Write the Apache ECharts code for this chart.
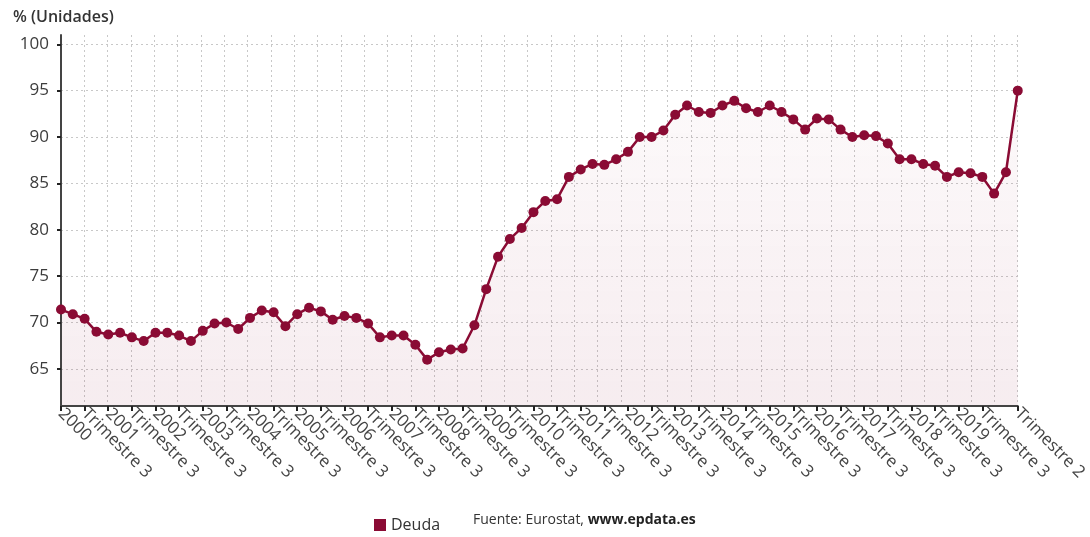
<!DOCTYPE html>
<html>
<head>
<meta charset="utf-8">
<script src="https://cdn.jsdelivr.net/npm/echarts@6/dist/echarts.min.js"></script>
<style>
  html, body { margin: 0; padding: 0; background: #fff; }
  #chart { width: 1090px; height: 537px; }
</style>
</head>
<body>
<div id="chart"></div>
<script>
// Deuda pública (% del PIB), trimestral, 2000 T1 – 2020 T2
const years = ['2000','2001','2002','2003','2004','2005','2006','2007','2008','2009',
               '2010','2011','2012','2013','2014','2015','2016','2017','2018','2019','2020'];
const quarterNames = ['Trimestre 1', 'Trimestre 2', 'Trimestre 3', 'Trimestre 4'];
const deuda = [
  71.4, 70.9, 70.4, 69.0,
  68.7, 68.9, 68.4, 68.0,
  68.9, 68.9, 68.6, 68.0,
  69.1, 69.9, 70.0, 69.3,
  70.5, 71.3, 71.1, 69.6,
  70.9, 71.6, 71.2, 70.3,
  70.7, 70.5, 69.9, 68.4,
  68.6, 68.6, 67.6, 66.0,
  66.8, 67.1, 67.2, 69.7,
  73.6, 77.1, 79.0, 80.2,
  81.9, 83.1, 83.3, 85.7,
  86.5, 87.1, 87.0, 87.6,
  88.4, 90.0, 90.0, 90.7,
  92.4, 93.4, 92.7, 92.6,
  93.4, 93.9, 93.1, 92.7,
  93.4, 92.7, 91.9, 90.8,
  92.0, 91.9, 90.8, 90.0,
  90.2, 90.1, 89.3, 87.6,
  87.6, 87.1, 86.9, 85.7,
  86.2, 86.1, 85.7, 83.9,
  86.2, 95.0
];
const yTicks = [65, 70, 75, 80, 85, 90, 95, 100];

// One category per quarter; the first quarter of each year is labelled with the year
const categories = [];
for (const y of years) {
  for (let q = 0; q < 4 && categories.length < deuda.length; q++) {
    categories.push(q === 0 ? y : quarterNames[q]);
  }
}
const lastIdx = categories.length - 1;
// label every second quarter, and always the latest one
const shownTick = (i) => (i % 2 === 0 && i < lastIdx - 1) || i === lastIdx;
// vertical grid: evenly spaced lines, one per labelled slot
const gridSlots = Math.ceil(lastIdx / 2);

const COLOR = '#8a0b34';
const FONT = '"Open Sans", "Noto Sans", sans-serif';
const GRID_LINE = { color: '#c8c8c8', type: [2, 3], width: 1 };

const chart = echarts.init(document.getElementById('chart'), null, { renderer: 'canvas' });
chart.setOption({
  animation: false,
  textStyle: { fontFamily: FONT },
  title: {
    text: '% (Unidades)',
    left: 8, top: 4,
    textStyle: { fontFamily: FONT, fontSize: 16, fontWeight: 600, color: '#333' }
  },
  legend: {
    data: ['Deuda'],
    left: 369, top: 512,
    icon: 'rect', itemWidth: 12, itemHeight: 12, itemGap: 6,
    textStyle: { fontFamily: FONT, fontSize: 16, color: '#333' }
  },
  graphic: [{
    type: 'text',
    left: 473, top: 513,
    style: {
      text: '{a|Fuente: Eurostat, }{b|www.epdata.es}',
      rich: {
        a: { fontFamily: FONT, fontSize: 14, fill: '#333' },
        b: { fontFamily: FONT, fontSize: 14, fontWeight: 'bold', fill: '#222' }
      }
    }
  }],
  grid: { left: 61, right: 69, top: 35, bottom: 131, containLabel: false },
  xAxis: [{
    type: 'category',
    data: categories,
    boundaryGap: false,
    z: 3,
    axisLine: { lineStyle: { color: '#444', width: 2 } },
    axisTick: { show: true, interval: shownTick, length: 5, lineStyle: { color: '#222', width: 2 } },
    axisLabel: {
      interval: 0,
      formatter: (value, index) => (shownTick(index) ? value : ''),
      hideOverlap: false,
      rotate: -45,
      margin: 5,
      fontFamily: FONT, fontSize: 17, color: '#444'
    },
    splitLine: { show: false }
  }, {
    type: 'value',
    min: 0, max: gridSlots, interval: 1,
    position: 'bottom',
    axisLine: { show: false },
    axisTick: { show: false },
    axisLabel: { show: false },
    splitLine: { show: true, lineStyle: GRID_LINE }
  }],
  yAxis: {
    type: 'value',
    min: 61, max: 101,
    z: 3,
    axisLine: { show: true, lineStyle: { color: '#444', width: 2 } },
    axisTick: { show: true, customValues: yTicks, length: 4, lineStyle: { color: '#222', width: 2 } },
    axisLabel: { customValues: yTicks, margin: 12, fontFamily: FONT, fontSize: 17, color: '#3c3c3c' },
    splitLine: { show: true, customValues: yTicks, lineStyle: GRID_LINE }
  },
  series: [{
    name: 'Deuda',
    type: 'line',
    xAxisIndex: 0,
    data: deuda,
    symbol: 'circle',
    symbolSize: 10,
    showAllSymbol: true,
    itemStyle: { color: COLOR },
    lineStyle: { color: COLOR, width: 2.5 },
    areaStyle: {
      origin: 'start',
      color: new echarts.graphic.LinearGradient(0, 0, 0, 1, [
        { offset: 0, color: 'rgba(138,11,52,0.03)' },
        { offset: 1, color: 'rgba(138,11,52,0.11)' }
      ])
    }
  }]
});
</script>
</body>
</html>
